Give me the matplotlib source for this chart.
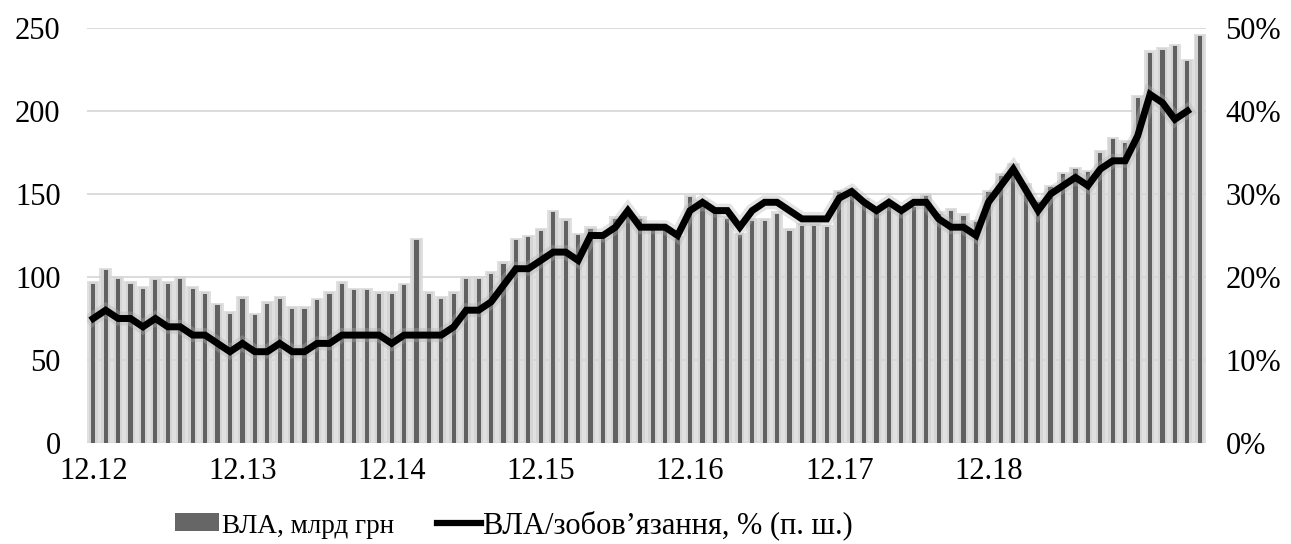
import matplotlib
matplotlib.use("Agg")
import matplotlib.pyplot as plt
import matplotlib.patheffects as pe
from matplotlib.patches import Patch
from matplotlib.lines import Line2D
import numpy as np

# Monthly liquid assets, bn UAH (12.2012 onward)
vla_bn = [
    96, 104, 99, 96, 93, 98, 96, 99, 93, 90, 83, 78,
    87, 77, 84, 87, 81, 81, 86, 90, 96, 92, 92, 90,
    90, 95, 122, 90, 87, 90, 99, 99, 102, 108, 122, 124,
    128, 139, 134, 125, 129, 123, 135, 137, 135, 131, 129, 123,
    148, 145, 138, 135, 125, 134, 134, 138, 128, 131, 131, 130,
    151, 152, 146, 139, 143, 138, 142, 149, 138, 140, 137, 133,
    151, 161, 167, 155, 145, 154, 162, 165, 163, 175, 183, 181,
    208, 235, 237, 239, 230, 245,
]

# Liquid assets to liabilities ratio, % (right axis)
vla_ratio = [
    15, 16, 15, 15, 14, 15, 14, 14, 13, 13, 12, 11,
    12, 11, 11, 12, 11, 11, 12, 12, 13, 13, 13, 13,
    12, 13, 13, 13, 13, 14, 16, 16, 17, 19, 21, 21,
    22, 23, 23, 22, 25, 25, 26, 28, 26, 26, 26, 25,
    28, 29, 28, 28, 26, 28, 29, 29, 28, 27, 27, 27,
    29.5, 30.3, 29, 28, 29, 28, 29, 29, 27, 26, 26, 25,
    29, 31, 33, 30.5, 28, 30, 31, 32, 31, 33, 34, 34,
    37, 42, 41, 39, 40,
]

tick_labels = ["12.12", "12.13", "12.14", "12.15", "12.16", "12.17", "12.18"]
left_ticks = [0, 50, 100, 150, 200, 250]
right_ticks = [0, 10, 20, 30, 40, 50]

bar_label = "ВЛА, млрд грн"
line_label = "ВЛА/зобов’язання, % (п. ш.)"

plt.rcParams["font.family"] = ["Liberation Serif", "DejaVu Serif"]

fig = plt.figure(figsize=(12.91, 5.44), dpi=100)
ax = fig.add_axes([87 / 1291, 1 - 443 / 544, (1206 - 87) / 1291, (443 - 28) / 544])

x = np.arange(len(vla_bn))
vals = np.array(vla_bn, dtype=float)

# soft shadow behind each bar
ax.bar(x, vals + 1.5, width=1.0, color="#e0e0e0", zorder=0.3, linewidth=0)
ax.bar(x, vals + 0.8, width=0.7, color="#d4d4d4", zorder=0.35, linewidth=0)
# the bars themselves
ax.bar(x, vals, width=0.34, color="#616161", zorder=1, linewidth=0)

ax.set_xlim(-0.5, len(vla_bn) - 0.5)
ax.set_ylim(0, 250)
ax.set_yticks(left_ticks)
ax.set_yticklabels([str(v) for v in left_ticks])
ax.set_xticks(np.arange(len(tick_labels)) * 12)
ax.set_xticklabels(tick_labels)

ax.set_axisbelow(True)
ax.yaxis.grid(True, color="#d6d6d6", linewidth=1.2)
for s in ax.spines.values():
    s.set_visible(False)
ax.tick_params(axis="both", length=0, labelsize=22, colors="black")
ax.tick_params(axis="y", pad=19)
ax.tick_params(axis="x", pad=10)

ax2 = ax.twinx()
ax2.set_ylim(0, 50)
ax2.set_yticks(right_ticks)
ax2.set_yticklabels([f"{v}%" for v in right_ticks])
for s in ax2.spines.values():
    s.set_visible(False)
ax2.tick_params(axis="y", length=0, labelsize=22, pad=14)

xr = np.arange(len(vla_ratio))
ax2.plot(
    xr, vla_ratio, color="black", linewidth=5, solid_joinstyle="miter",
    path_effects=[pe.Stroke(linewidth=10, foreground="#b0b0b0", alpha=0.35), pe.Normal()],
    zorder=3,
)

handles = [
    Patch(facecolor="#666666", edgecolor="none"),
    Line2D([0], [0], color="black", linewidth=4.5),
]
leg = fig.legend(
    handles, [bar_label, line_label], loc="center",
    bbox_to_anchor=(514 / 1291, 1 - 525 / 544), ncol=2, frameon=False,
    fontsize=22, handlelength=1.45, handletextpad=0.08, columnspacing=1.4,
    handleheight=0.5,
)
leg.get_texts()[0].set_fontsize(19.5)

fig.savefig("out.png", dpi=100)
